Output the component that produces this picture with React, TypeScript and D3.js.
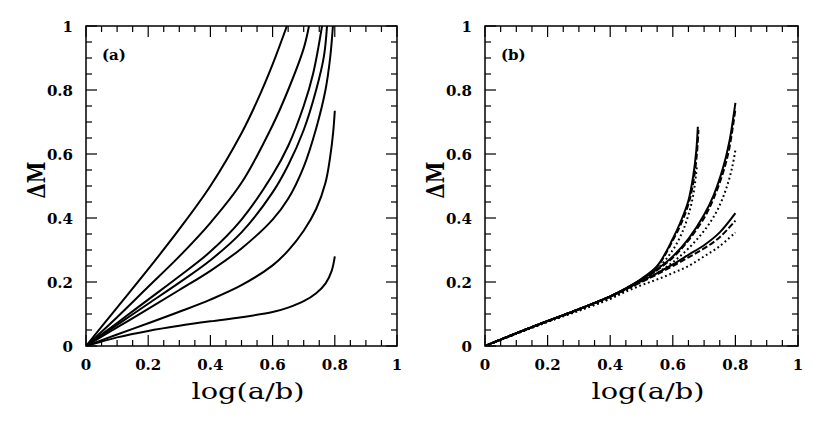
import React from "react";
import * as d3 from "d3";

type Pt = [number, number];

// Panel (a): seven solid curves
const a1: Pt[] = [[0,0],[0.1,0.12],[0.2,0.24],[0.3,0.365],[0.4,0.5],[0.5,0.665],[0.55,0.765],[0.6,0.88],[0.646,1.0]];
const a2: Pt[] = [[0,0],[0.1,0.09],[0.2,0.185],[0.3,0.28],[0.4,0.385],[0.5,0.51],[0.6,0.69],[0.65,0.8],[0.7,0.93],[0.717,1.0]];
const a3: Pt[] = [[0,0],[0.1,0.072],[0.2,0.145],[0.3,0.218],[0.4,0.295],[0.5,0.395],[0.6,0.535],[0.65,0.625],[0.7,0.75],[0.73,0.85],[0.759,1.0]];
const a4: Pt[] = [[0,0],[0.1,0.066],[0.2,0.132],[0.3,0.198],[0.4,0.268],[0.5,0.355],[0.6,0.48],[0.65,0.565],[0.7,0.675],[0.74,0.8],[0.765,0.905],[0.775,1.0]];
const a5: Pt[] = [[0,0],[0.1,0.058],[0.2,0.116],[0.3,0.175],[0.4,0.235],[0.5,0.305],[0.6,0.395],[0.65,0.46],[0.7,0.56],[0.74,0.68],[0.77,0.8],[0.785,0.9],[0.794,1.0]];
const a6: Pt[] = [[0,0],[0.1,0.036],[0.2,0.071],[0.3,0.107],[0.4,0.145],[0.5,0.19],[0.6,0.252],[0.65,0.298],[0.7,0.36],[0.74,0.428],[0.77,0.51],[0.785,0.59],[0.795,0.67],[0.8,0.735]];
const a7: Pt[] = [[0,0],[0.05,0.014],[0.1,0.027],[0.2,0.047],[0.3,0.063],[0.4,0.077],[0.5,0.09],[0.6,0.106],[0.65,0.12],[0.7,0.14],[0.74,0.165],[0.77,0.195],[0.79,0.235],[0.8,0.28]];

// Panel (b): three groups, each solid / dashed / dotted
const bASolid: Pt[] = [[0,0],[0.1,0.04],[0.2,0.078],[0.3,0.115],[0.4,0.155],[0.45,0.18],[0.5,0.21],[0.55,0.25],[0.6,0.335],[0.63,0.4],[0.65,0.455],[0.665,0.53],[0.675,0.61],[0.68,0.685]];
const bADashed: Pt[] = [[0,0],[0.1,0.04],[0.2,0.078],[0.3,0.115],[0.4,0.155],[0.45,0.179],[0.5,0.208],[0.55,0.247],[0.6,0.33],[0.63,0.39],[0.652,0.45],[0.667,0.52],[0.677,0.6],[0.682,0.675]];
const bADotted: Pt[] = [[0,0],[0.1,0.039],[0.2,0.077],[0.3,0.113],[0.4,0.151],[0.45,0.175],[0.5,0.203],[0.55,0.24],[0.6,0.3],[0.63,0.355],[0.65,0.41],[0.665,0.47],[0.677,0.56]];
const bBSolid: Pt[] = [[0,0],[0.1,0.04],[0.2,0.078],[0.3,0.115],[0.4,0.155],[0.45,0.18],[0.5,0.208],[0.55,0.24],[0.6,0.28],[0.65,0.335],[0.7,0.41],[0.73,0.47],[0.76,0.555],[0.78,0.635],[0.8,0.76]];
const bBDashed: Pt[] = [[0,0],[0.1,0.04],[0.2,0.078],[0.3,0.115],[0.4,0.155],[0.45,0.179],[0.5,0.206],[0.55,0.237],[0.6,0.276],[0.65,0.33],[0.7,0.4],[0.73,0.46],[0.76,0.54],[0.78,0.615],[0.8,0.74]];
const bBDotted: Pt[] = [[0,0],[0.1,0.039],[0.2,0.076],[0.3,0.112],[0.4,0.15],[0.45,0.175],[0.5,0.2],[0.55,0.228],[0.6,0.262],[0.65,0.305],[0.7,0.36],[0.74,0.42],[0.77,0.49],[0.79,0.56],[0.8,0.6125]];
const bCSolid: Pt[] = [[0,0],[0.1,0.04],[0.2,0.078],[0.3,0.115],[0.4,0.155],[0.45,0.178],[0.5,0.203],[0.55,0.228],[0.6,0.255],[0.65,0.285],[0.7,0.315],[0.75,0.355],[0.8,0.415]];
const bCDashed: Pt[] = [[0,0],[0.1,0.04],[0.2,0.078],[0.3,0.115],[0.4,0.154],[0.45,0.177],[0.5,0.2],[0.55,0.224],[0.6,0.25],[0.65,0.277],[0.7,0.305],[0.75,0.34],[0.8,0.392]];
const bCDotted: Pt[] = [[0,0],[0.1,0.038],[0.2,0.075],[0.3,0.11],[0.4,0.147],[0.45,0.17],[0.5,0.19],[0.55,0.208],[0.6,0.228],[0.65,0.25],[0.7,0.28],[0.75,0.312],[0.8,0.355]];

const majorTicks = [0, 0.2, 0.4, 0.6, 0.8, 1];
const tickLabels = ["0", "0.2", "0.4", "0.6", "0.8", "1"];
const minorTicks = d3.range(0, 1.0001, 0.05);

type Series = { data: Pt[]; dash?: string };

const panelASeries: Series[] = [a1, a2, a3, a4, a5, a6, a7].map((d) => ({ data: d }));
const panelBSeries: Series[] = [
  { data: bADotted, dash: "1.8,2.8" },
  { data: bBDotted, dash: "1.8,2.8" },
  { data: bCDotted, dash: "1.8,2.8" },
  { data: bADashed, dash: "6,2.5" },
  { data: bBDashed, dash: "6,2.5" },
  { data: bCDashed, dash: "6,2.5" },
  { data: bASolid },
  { data: bBSolid },
  { data: bCSolid },
];

const TOP = 26;
const BOTTOM = 346;
const tickFont = "'DejaVu Serif', serif";

function Panel({ left, right, label, series, id }: { left: number; right: number; label: string; series: Series[]; id: string }) {
  const x = d3.scaleLinear().domain([0, 1]).range([left, right]);
  const y = d3.scaleLinear().domain([0, 1]).range([BOTTOM, TOP]);
  const line = d3.line<Pt>().x((d) => x(d[0])).y((d) => y(d[1])).curve(d3.curveCatmullRom.alpha(0.5));
  const isMajor = (v: number) => majorTicks.some((m) => Math.abs(m - v) < 1e-6);
  const tlen = (v: number) => (isMajor(v) ? 11 : 6);
  return (
    <g>
      <defs>
        <clipPath id={id}>
          <rect x={left} y={TOP} width={right - left} height={BOTTOM - TOP} />
        </clipPath>
      </defs>
      <g clipPath={`url(#${id})`}>
        {series.map((s, i) => (
          <path key={i} d={line(s.data) || ""} fill="none" stroke="#000" strokeWidth={2} strokeDasharray={s.dash} strokeLinecap="butt" />
        ))}
      </g>
      {minorTicks.map((v, i) => (
        <g key={i} stroke="#000" strokeWidth={1.2}>
          <line x1={x(v)} x2={x(v)} y1={BOTTOM} y2={BOTTOM - tlen(v)} />
          <line x1={x(v)} x2={x(v)} y1={TOP} y2={TOP + tlen(v)} />
          <line x1={left} x2={left + tlen(v)} y1={y(v)} y2={y(v)} />
          <line x1={right} x2={right - tlen(v)} y1={y(v)} y2={y(v)} />
        </g>
      ))}
      <rect x={left} y={TOP} width={right - left} height={BOTTOM - TOP} fill="none" stroke="#000" strokeWidth={1.5} />
      {majorTicks.map((v, i) => (
        <text key={"x" + i} x={x(v)} y={370} textAnchor="middle" fontFamily={tickFont} fontWeight="bold" fontSize={15}>
          {tickLabels[i]}
        </text>
      ))}
      {majorTicks.map((v, i) => (
        <text key={"y" + i} x={left - 13} y={y(v) + 5.5} textAnchor="end" fontFamily={tickFont} fontWeight="bold" fontSize={15}>
          {tickLabels[i]}
        </text>
      ))}
      <text x={(left + right) / 2 + 6.5} y={399} textAnchor="middle" fontFamily={tickFont} fontSize={23} textLength={113} lengthAdjust="spacingAndGlyphs">
        log(a/b)
      </text>
      <text transform={`translate(${left - 41},180) rotate(-90)`} textAnchor="middle" fontFamily={tickFont} fontWeight="bold" fontSize={24} textLength={37} lengthAdjust="spacingAndGlyphs">
        ΔM
      </text>
      <text x={left + 16} y={60} fontFamily={tickFont} fontWeight="bold" fontSize={15}>
        {label}
      </text>
    </g>
  );
}

export default function App() {
  return (
    <svg width={830} height={432} style={{ position: "absolute", left: 0, top: 0, background: "#fff" }}>
      <rect width={830} height={432} fill="#fff" />
      <Panel left={86} right={397} label="(a)" series={panelASeries} id="clipA" />
      <Panel left={485} right={798} label="(b)" series={panelBSeries} id="clipB" />
    </svg>
  );
}
